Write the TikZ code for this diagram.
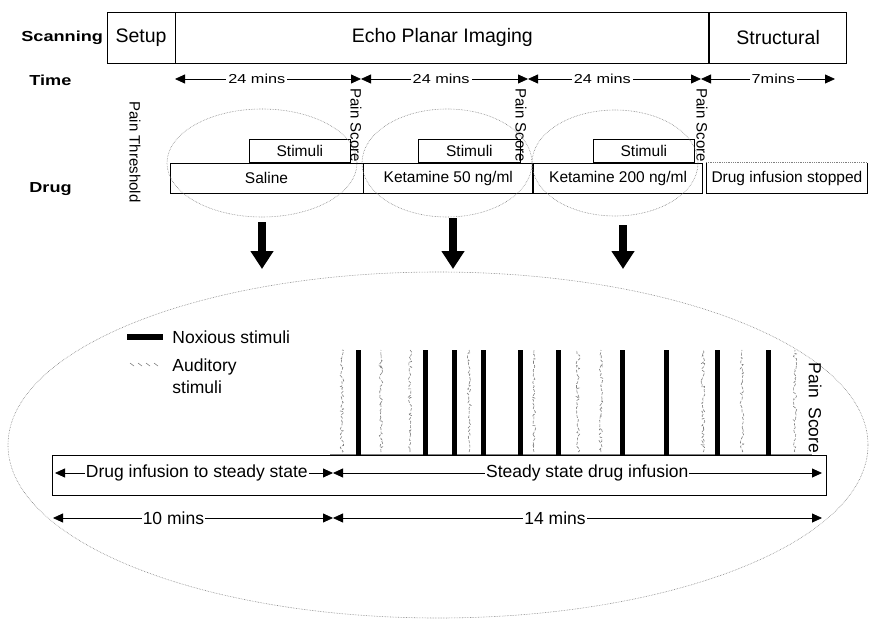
\documentclass[tikz,border=0pt]{standalone}
\usepackage{fontspec}
\setmainfont{Liberation Sans}
\newfontfamily\widefont[FakeStretch=1.25]{Liberation Sans}
\usetikzlibrary{arrows.meta,positioning,shapes.geometric,decorations.pathmorphing}

\tikzset{
  box/.style={draw, inner sep=0pt},
  rowlabel/.style={font=\widefont\bfseries\fontsize{14.5}{16}\selectfont, anchor=base west, inner sep=0pt},
  scantext/.style={font=\fontsize{19.5}{22}\selectfont},
  timetext/.style={font=\widefont\fontsize{13}{15}\selectfont, fill=white, inner sep=2pt},
  drugtext/.style={font=\fontsize{15.5}{18}\selectfont},
  sidetext/.style={font=\fontsize{15}{17}\selectfont, rotate=-90, inner sep=0pt},
  bigtext/.style={font=\fontsize{17.5}{22}\selectfont},
  span/.style={{Triangle[length=10pt,width=9pt]}-{Triangle[length=10pt,width=9pt]}},
  ring/.style={ellipse, draw=gray, densely dotted, line width=0.6pt, inner sep=0pt},
  bigarrow/.style={line width=8pt, -{Triangle[length=18pt,width=22pt]}},
  noxious/.style={line width=5pt},
  auditory/.style={gray, line width=0.6pt, dash pattern=on 3pt off 1.5pt, decorate,
    decoration={random steps, segment length=2pt, amplitude=1.8pt}},
}

\begin{document}
\begin{tikzpicture}[x=1pt, y=-1pt, line width=0.8pt]
    \useasboundingbox (0,0) rectangle (869,620);

    % scanning row
    \node[rowlabel] (scanlbl) at (21,42) {Scanning};
    \node[box, scantext, minimum width=68pt, minimum height=51pt] (setup) at (141,37.5) {Setup};
    \node[box, scantext, minimum width=533pt, minimum height=51pt, right=0pt of setup] (epi) {Echo Planar Imaging};
    \node[box, scantext, minimum width=137pt, minimum height=51pt, right=0pt of epi] (struct) {Structural};

    % time row
    \node[rowlabel] (timelbl) at (29,86) {Time};
    \coordinate (t0) at (175,79) ;
    \coordinate (t1) at (361,79) ;
    \coordinate (t2) at (528,79) ;
    \coordinate (t3) at (701,79) ;
    \coordinate (t4) at (835,79) ;
    \draw[span] (t0) -- node[timetext, pos=0.44]{24 mins} (t1);
    \draw[span] (t1) -- node[timetext, pos=0.48]{24 mins} (t2);
    \draw[span] (t2) -- node[timetext, pos=0.43]{24 mins} (t3);
    \draw[span] (t3) -- node[timetext, pos=0.54]{7mins} (t4);

    % pain ratings
    \node[sidetext] (thresh) at (135,152) {Pain Threshold};
    \node[sidetext, anchor=west] (score1) at (356,88) {Pain Score};
    \node[sidetext, anchor=west] (score2) at (521,88) {Pain Score};
    \node[sidetext, anchor=west] (score3) at (702,88) {Pain Score};

    % drug row
    \node[rowlabel] (druglbl) at (29,193) {Drug};
    \node[box, drugtext, minimum width=193pt, minimum height=30pt] (saline) at (266.5,178) {Saline};
    \node[box, drugtext, minimum width=169pt, minimum height=30pt, right=0pt of saline] (ket50) {Ketamine 50 ng/ml};
    \node[box, drugtext, minimum width=169pt, minimum height=30pt, right=0pt of ket50] (ket200) {Ketamine 200 ng/ml};
    \node[drugtext, inner sep=0pt, minimum width=161pt, minimum height=30pt, right=3pt of ket200] (stopped) {Drug infusion stopped};
    \draw (stopped.north west) -- (stopped.south west) -- (stopped.south east) -- (stopped.north east);
    \draw[gray, densely dotted] (stopped.north west) -- (stopped.north east);

    % stimuli blocks
    \node[box, drugtext, minimum width=101pt, minimum height=23pt, anchor=south west] (stim1) at (249,163) {Stimuli};
    \node[box, drugtext, minimum width=102pt, minimum height=23pt, anchor=south west] (stim2) at (418,163) {Stimuli};
    \node[box, drugtext, minimum width=101pt, minimum height=23pt, anchor=south west] (stim3) at (593,163) {Stimuli};

    % sessions
    \node[ring, minimum width=190pt, minimum height=108pt] (ringsal) at (262,163) {};
    \node[ring, minimum width=170pt, minimum height=108pt] (ringk50) at (447,163) {};
    \node[ring, minimum width=166pt, minimum height=106pt] (ringk200) at (615,163) {};
    \node[ring, minimum width=860pt, minimum height=346pt] (zoom) at (438,445) {};

    \coordinate (zoomtop) at (0,269) ;
    \draw[bigarrow] ([yshift=-5pt]ringsal.south) -- (ringsal.south |- zoomtop);
    \draw[bigarrow] ([xshift=6pt,yshift=-1pt]ringk50.south) -- ([xshift=6pt]ringk50.south |- zoomtop);
    \draw[bigarrow] ([xshift=8pt,yshift=-9pt]ringk200.south) -- ([xshift=8pt]ringk200.south |- zoomtop);

    % legend
    \draw[line width=6pt] (127,337) -- (163,337);
    \node[bigtext, anchor=west, inner sep=0pt] (noxlbl) at (172,337) {Noxious stimuli};
    \foreach \i in {0,...,3}
        \draw[gray, line width=0.6pt] (130+8*\i,363) -- ++(4,3);
    \node[bigtext, anchor=north west, align=left, inner sep=0pt] (audlbl) at (172,358) {Auditory\\stimuli};

    % stimulus train
    \draw[gray, line width=0.5pt] (330,454) -- (812,454);
    \foreach \x in {358,425,454,483,520,558,622,666,717,768}
        \draw[noxious] (\x,350) -- (\x,455);
    \foreach \x in {342,381,410,469,534,578,601,703,742,795}
        \draw[auditory] (\x,452) -- (\x,350);
    \node[bigtext, rotate=-90, inner sep=0pt] (score4) at (815,408) {Pain \ Score};

    % infusion box
    \node[box, minimum width=774pt, minimum height=40pt, anchor=north west] (infusion) at (52,455) {};
    \coordinate (i0) at (55,473) ;
    \coordinate (i1) at (333,473) ;
    \coordinate (i2) at (822,473) ;
    \draw[span] (i0) -- node[bigtext, fill=white, inner sep=1pt, pos=0.51]{Drug infusion to steady state} (i1);
    \draw[span] (i1) -- node[bigtext, fill=white, inner sep=1pt, pos=0.52]{Steady state drug infusion} (i2);

    % durations
    \coordinate (b0) at (53,518) ;
    \coordinate (b1) at (333,518) ;
    \coordinate (b2) at (822,518) ;
    \draw[span] (b0) -- node[bigtext, fill=white, inner sep=1pt, pos=0.43]{10 mins} (b1);
    \draw[span] (b1) -- node[bigtext, fill=white, inner sep=1pt, pos=0.454]{14 mins} (b2);
\end{tikzpicture}
\end{document}
